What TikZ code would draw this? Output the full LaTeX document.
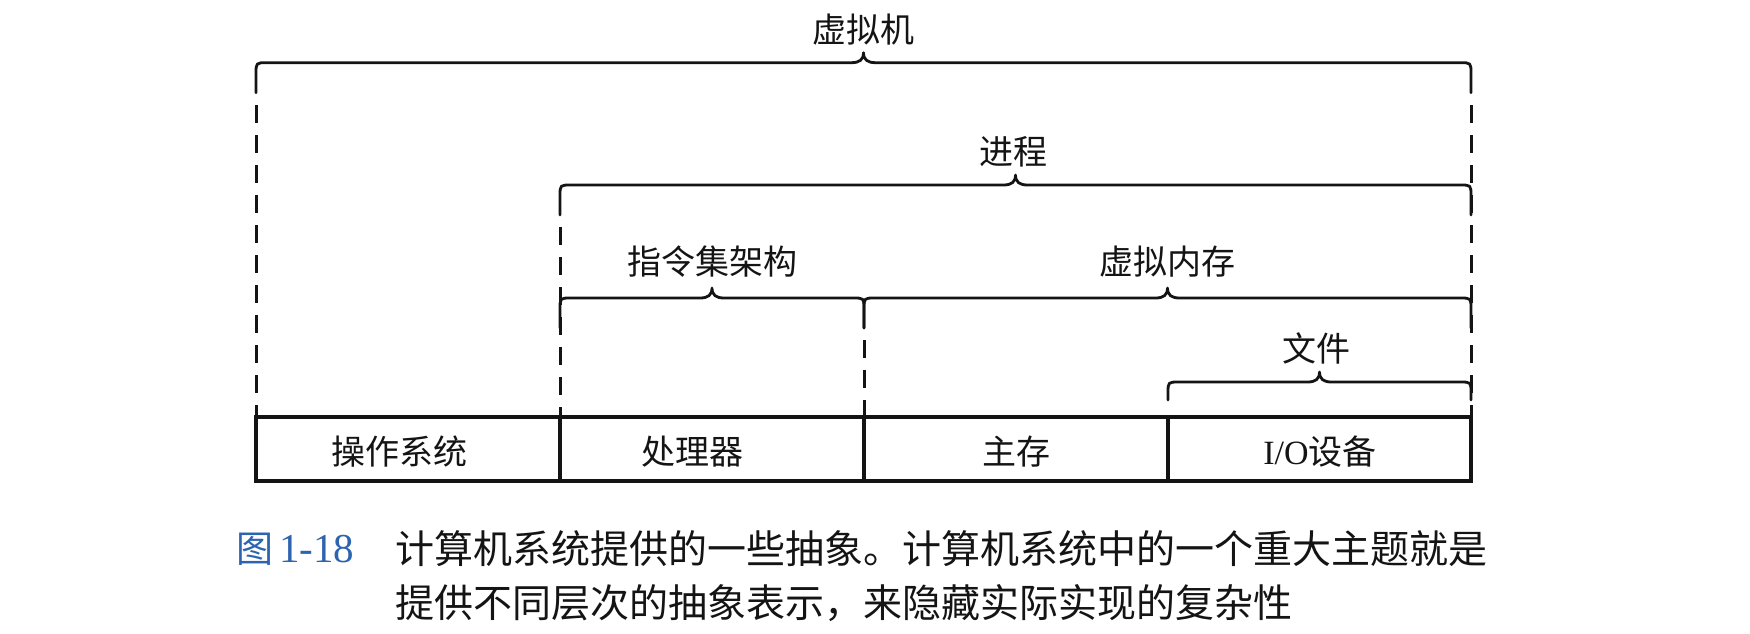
\documentclass[tikz,border=0pt]{standalone}
\usepackage{fontspec}
\setmainfont{Liberation Serif}
\newfontfamily\cjk{Noto Sans CJK SC}
\definecolor{capblue}{RGB}{45,100,175}
\definecolor{ink}{RGB}{20,20,20}
\newcommand\mybrace[4]{% x1, x2, y, tail
  \pgfmathsetmacro\bm{(#1+#2)/2}
  \draw[brc] (#1,#3+#4) -- (#1,#3+11) .. controls (#1,#3) .. (#1+11,#3)
    -- (\bm-12,#3) .. controls (\bm-4,#3) and (\bm,#3-3) .. (\bm,#3-10)
    .. controls (\bm,#3-3) and (\bm+4,#3) .. (\bm+12,#3)
    -- (#2-11,#3) .. controls (#2,#3) .. (#2,#3+11) -- (#2,#3+#4);
}
\tikzset{
  lbl/.style={font=\cjk\fontsize{34}{40}\selectfont, inner sep=0pt, text=ink},
  captxt/.style={font=\cjk\fontsize{39}{46}\selectfont, inner sep=0pt, anchor=west, text=ink},
  brc/.style={draw=ink, line width=2.8pt, line join=round, line cap=round},
  dsh/.style={draw=ink, line width=3pt, dash pattern=on 18pt off 12pt, dash phase=18pt},
  boxl/.style={draw=ink, line width=3.2pt}
}
\begin{document}
\begin{tikzpicture}[x=1pt,y=-1pt]
\useasboundingbox (0,0) rectangle (1750,634);
\fill[white] (0,0) rectangle (1750,634);

% braces
\mybrace{256}{1471}{62.7}{30}
\mybrace{560}{1471}{185}{30}
\mybrace{560}{864}{298}{30}
\mybrace{864}{1471}{298}{30}
\mybrace{1168}{1471}{382}{18}

% dashed guide lines
\draw[dsh] (256,93) -- (256,417);
\draw[dsh] (560,215) -- (560,417);
\draw[dsh] (864,328) -- (864,417);
\draw[dsh] (1471,93) -- (1471,417);

% labels
\node[lbl] (vm)   at (863,30)   {虚拟机};
\node[lbl] (proc) at (1013,152) {进程};
\node[lbl] (isa)  at (712,262)  {指令集架构};
\node[lbl] (vmem) at (1167,262) {虚拟内存};
\node[lbl] (file) at (1316,348) {文件};

% bottom row
\draw[boxl] (256,417) rectangle (1471,481);
\draw[boxl] (560,417) -- (560,481);
\draw[boxl] (864,417) -- (864,481);
\draw[boxl] (1168,417) -- (1168,481);
\node[lbl] (os)  at (399,452)  {操作系统};
\node[lbl] (cpu) at (692,452)  {处理器};
\node[lbl] (mem) at (1016,452) {主存};
\node[lbl] (io)  at (1320,452) {{\rmfamily I/O}设备};

% caption
\node[inner sep=0pt, anchor=west, text=capblue, font=\fontsize{37}{44}\selectfont] (fig) at (236,549) {{\cjk 图}\hspace{6pt}{\fontsize{41}{46}\selectfont 1-18}};
\node[captxt] (c1) at (395,549) {计算机系统提供的一些抽象。计算机系统中的一个重大主题就是};
\node[captxt] (c2) at (395,603) {提供不同层次的抽象表示，来隐藏实际实现的复杂性};
\end{tikzpicture}
\end{document}
